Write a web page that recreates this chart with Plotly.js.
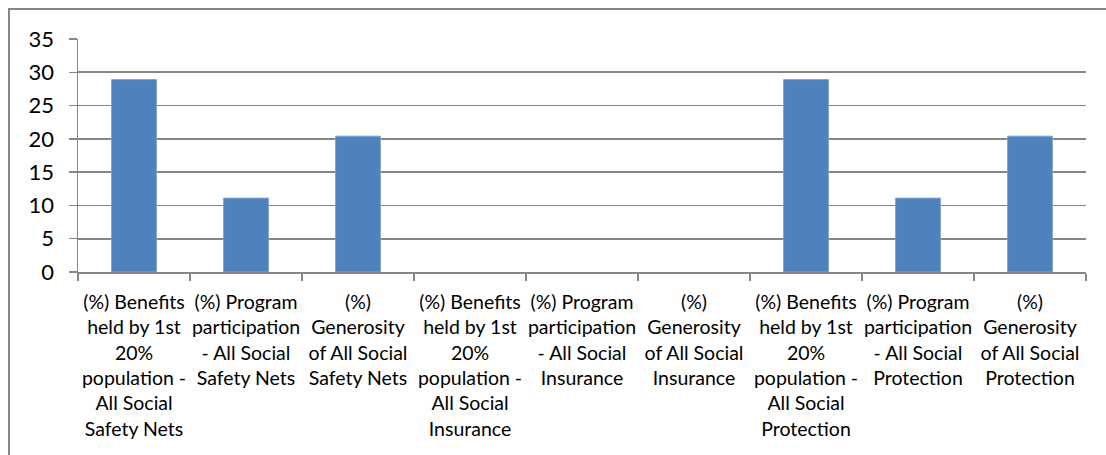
<!DOCTYPE html>
<html>
<head>
<meta charset="utf-8">
<script src="https://cdn.plot.ly/plotly-3.0.1.min.js"></script>
<style>
  html, body { margin: 0; padding: 0; background: #fff; }
  #chart { width: 1106px; height: 455px; }
</style>
</head>
<body>
<div id="chart"></div>
<script>
const categories = [
  "(%) Benefits<br>held by 1st<br>20%<br>population -<br>All Social<br>Safety Nets",
  "(%) Program<br>participation<br>- All Social<br>Safety Nets",
  "(%)<br>Generosity<br>of All Social<br>Safety Nets",
  "(%) Benefits<br>held by 1st<br>20%<br>population -<br>All Social<br>Insurance",
  "(%) Program<br>participation<br>- All Social<br>Insurance",
  "(%)<br>Generosity<br>of All Social<br>Insurance",
  "(%) Benefits<br>held by 1st<br>20%<br>population -<br>All Social<br>Protection",
  "(%) Program<br>participation<br>- All Social<br>Protection",
  "(%)<br>Generosity<br>of All Social<br>Protection"
];
const values = [28.9, 11.1, 20.4, null, null, null, 28.9, 11.1, 20.4];
const yTicks = [0, 5, 10, 15, 20, 25, 30, 35];

const GRAY = '#868686';

const trace = {
  type: 'bar',
  x: categories,
  y: values,
  marker: { color: '#4F81BD', line: { color: '#7FA3D0', width: 1 } },
  hoverinfo: 'none'
};

const layout = {
  width: 1106,
  height: 455,
  margin: { l: 78, r: 20, t: 39, b: 183 },
  paper_bgcolor: '#ffffff',
  plot_bgcolor: '#ffffff',
  showlegend: false,
  bargap: 0.6,
  font: { family: 'Lato, "Open Sans", sans-serif', color: '#000000' },
  xaxis: {
    type: 'category',
    tickson: 'boundaries',
    tickangle: 0,
    ticks: 'outside',
    ticklen: 7,
    tickwidth: 1.5,
    tickcolor: GRAY,
    showline: true,
    linecolor: GRAY,
    linewidth: 1.5,
    showgrid: false,
    zeroline: false,
    tickfont: { size: 19.5, family: 'Lato, sans-serif', color: '#000' },
    ticklabelstandoff: 12,
    automargin: false
  },
  yaxis: {
    range: [0, 35],
    tickmode: 'array',
    tickvals: yTicks,
    ticktext: yTicks.map(String),
    ticks: 'outside',
    ticklen: 8,
    tickwidth: 1.5,
    tickcolor: GRAY,
    showline: true,
    linecolor: GRAY,
    linewidth: 1.5,
    showgrid: true,
    gridcolor: GRAY,
    gridwidth: 1.6,
    zeroline: false,
    tickfont: { size: 22, family: 'Lato, sans-serif', color: '#000' },
    ticklabelstandoff: 10,
    automargin: false
  },
  shapes: [{
    type: 'rect',
    xref: 'paper', yref: 'paper',
    x0: (9 - 78) / 1008, x1: (1112 - 78) / 1008,
    y0: (272 - 462) / 233, y1: (272 - 9) / 233,
    line: { color: GRAY, width: 2 },
    fillcolor: 'rgba(0,0,0,0)',
    layer: 'below'
  }]
};

Plotly.newPlot('chart', [trace], layout, { staticPlot: true, displayModeBar: false });
</script>
</body>
</html>
